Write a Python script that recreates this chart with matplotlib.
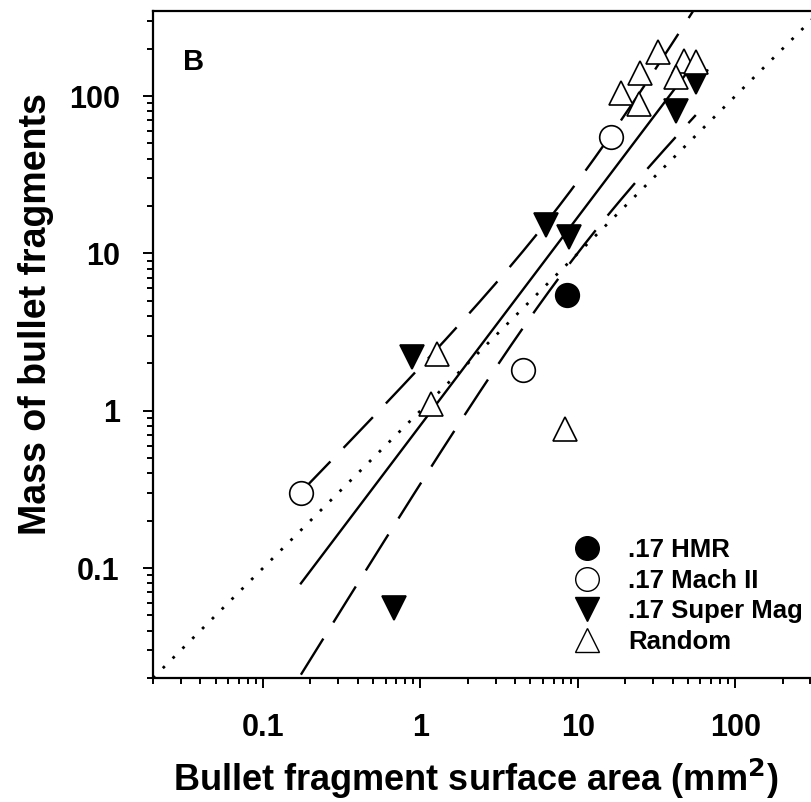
import matplotlib
matplotlib.use("Agg")
import matplotlib.pyplot as plt
from matplotlib.lines import Line2D
import numpy as np

plt.rcParams['font.family'] = ['Liberation Sans', 'DejaVu Sans']
plt.rcParams['font.weight'] = 'bold'

# data (surface area mm^2, mass)
hmr_x = [8.54]
hmr_y = [5.41]
mach_x = [0.174, 4.51, 16.3]
mach_y = [0.30, 1.82, 55.0]
super_x = [56.1, 41.8, 6.28, 8.82, 0.888, 0.683]
super_y = [123.0, 80.0, 15.1, 12.7, 2.19, 0.0557]
rand_x = [32.5, 24.9, 18.7, 24.5, 47.3, 56.1, 41.8, 1.27, 1.17, 8.28]
rand_y = [190.7, 140.9, 105.1, 89.5, 166.2, 164.8, 132.2, 2.30, 1.11, 0.768]
one_to_one = [0.02, 350.0]

# log-log regression over all fragments with 95% confidence band
lx = np.log10(hmr_x + mach_x + super_x + rand_x)
ly = np.log10(hmr_y + mach_y + super_y + rand_y)
n = len(lx)
slope, icpt = np.polyfit(lx, ly, 1)
resid = ly - (icpt + slope * lx)
s = np.sqrt(np.sum(resid**2) / (n - 2))
sxx = np.sum((lx - lx.mean())**2)
t_crit = 2.101  # t(0.975, df=18)
gx = np.linspace(lx.min(), lx.max(), 200)
gfit = icpt + slope * gx
half = t_crit * s * np.sqrt(1.0 / n + (gx - lx.mean())**2 / sxx)

fig = plt.figure(figsize=(8.12, 8.02), dpi=100)
ax = fig.add_axes([153/812, 124/802, 659/812, 667/802])
ax.set_xscale('log')
ax.set_yscale('log')

ax.plot(one_to_one, one_to_one, color='black', lw=2, linestyle=(0, (1, 4)), zorder=1)
ax.plot(10**gx, 10**gfit, color='black', lw=1.7, zorder=2)
ax.plot(10**gx, 10**(gfit + half), color='black', lw=1.7, dashes=(18, 8), zorder=2)
ax.plot(10**gx, 10**(gfit - half), color='black', lw=1.7, dashes=(18, 8), zorder=2)

ms = 17
ax.plot(hmr_x, hmr_y, 'o', ms=ms, mfc='black', mec='black', mew=1.2, zorder=5)
ax.plot(mach_x, mach_y, 'o', ms=ms, mfc='white', mec='black', mew=1.2, zorder=5)
ax.plot(super_x, super_y, 'v', ms=ms, mfc='black', mec='black', mew=1.2, zorder=5)
ax.plot(rand_x, rand_y, '^', ms=ms, mfc='white', mec='black', mew=1.2, zorder=5)

ax.set_xlim(0.02, 307)
ax.set_ylim(0.02, 347)

for sp in ['left', 'bottom', 'top']:
    ax.spines[sp].set_linewidth(1.6)
ax.spines['right'].set_visible(False)

ax.tick_params(which='major', direction='out', length=7, width=1.4, labelsize=22)
ax.tick_params(which='minor', direction='out', length=4.5, width=1.4)
ax.tick_params(axis='x', which='major', pad=18)
ax.tick_params(axis='y', which='major', pad=17)
ax.tick_params(top=False, right=False, which='both')
ax.set_xticks([0.1, 1, 10, 100])
ax.set_xticklabels(['0.1', '1', '10', '100'])
ax.set_yticks([0.1, 1, 10, 100])
ax.set_yticklabels(['0.1', '1', '10', '100'])

ax.set_xlabel('Bullet fragment surface area (mm$^\\mathbf{2}$)', fontsize=26, fontweight='bold')
ax.xaxis.set_label_coords(0.49, -0.118)
ax.set_ylabel('Mass of bullet fragments', fontsize=27, fontweight='bold')
ax.yaxis.set_label_coords(-0.15, 0.545)

ax.text(0.045, 0.945, 'B', transform=ax.transAxes, fontsize=21, fontweight='bold', va='top')

handles = [
    Line2D([], [], marker='o', ls='', ms=ms, mfc='black', mec='black'),
    Line2D([], [], marker='o', ls='', ms=ms, mfc='white', mec='black'),
    Line2D([], [], marker='v', ls='', ms=ms, mfc='black', mec='black'),
    Line2D([], [], marker='^', ls='', ms=ms, mfc='white', mec='black'),
]
labels = ['.17 HMR', '.17 Mach II', '.17 Super Mag', 'Random']
ax.legend(handles, labels, loc='center left', bbox_to_anchor=(0.60, 0.123), frameon=False,
          prop={'size': 18.5, 'weight': 'bold'}, handletextpad=1.0, labelspacing=0.25,
          handlelength=1.2, borderpad=0.4)

fig.savefig('out.png', dpi=100)
